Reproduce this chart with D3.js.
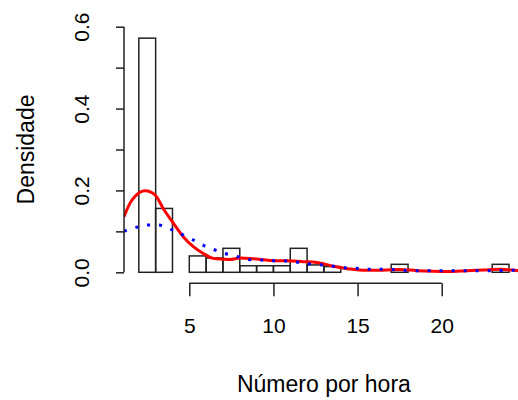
<!DOCTYPE html>
<html>
<head>
<meta charset="utf-8">
<script src="https://cdn.jsdelivr.net/npm/d3@7"></script>
<style>
  html, body { margin: 0; padding: 0; background: #fff; }
  svg { display: block; }
  text { font-family: "Liberation Sans", Arial, sans-serif; fill: #000; }
</style>
</head>
<body>
<script>
// ---- data ----
const binBreaks = [2,3,4,5,6,7,8,9,10,11,12,13,14,15,16,17,18,19,20,21,22,23,24];
const binDensity = [0.572,0.156,0,0.040,0.035,0.0586,0.016,0.016,0.016,0.0586,0.018,0.014,0,0,0,0.0195,0,0,0,0,0,0.0195];

const redX = [1.12,1.48,1.77,2.37,2.96,3.45,4.05,4.64,5.24,5.83,6.43,7.02,7.42,8.01,8.8,9.8,10.8,11.76,12.57,13.56,14.55,15.55,16.5,17.5,18.52,19.49,20.5,21.5,22.46,23.47,24.47,24.88];
const redY = [0.136,0.169,0.185,0.199,0.189,0.156,0.12,0.087,0.0625,0.046,0.034,0.032,0.031,0.035,0.033,0.029,0.028,0.026,0.024,0.015,0.008,0.005,0.005,0.007,0.004,0.0025,0.002,0.004,0.0056,0.0073,0.0043,0.003];

const blueX = [1.12,1.28,1.87,2.47,3.16,3.75,4.35,4.85,5.44,5.93,6.53,7.12,7.72,8.31,8.9,9.6,10.2,10.89,11.58,12.28,12.97,13.56,14.26,14.95,15.64,16.3,16.97,17.63,18.32,19.01,19.7,20.5,21.2,21.88,22.58,23.27,23.97,24.88];
const blueY = [0.100,0.103,0.110,0.1155,0.1155,0.107,0.098,0.0855,0.075,0.064,0.0545,0.046,0.040,0.033,0.030,0.030,0.0276,0.0276,0.0235,0.020,0.018,0.015,0.011,0.0098,0.0073,0.0073,0.007,0.005,0.004,0.0035,0.0035,0.004,0.0035,0.004,0.004,0.004,0.005,0.005];

const xTicks = [5,10,15,20];
const yTicks = [0,0.1,0.2,0.3,0.4,0.5,0.6];
const yTickLabels = ["0.0","","0.2","","0.4","","0.6"];
const xTitle = "Número por hora";
const yTitle = "Densidade";

// ---- layout ----
const W = 518, H = 400;
const svg = d3.select("body").append("svg").attr("width", W).attr("height", H);

const x = d3.scaleLinear().domain([5, 20]).range([189.3, 441.7]);
const y = d3.scaleLinear().domain([0, 0.6]).range([272.3, 26.7]);

const xMin = 2 - 0.04 * 22, xMax = 24 + 0.04 * 22;
const plotLeft = x(xMin), plotRight = x(xMax);
const plotBottom = y(-0.04 * 0.572), plotTop = y(0.572 * 1.04);

svg.append("defs").append("clipPath").attr("id", "plotclip")
  .append("rect")
  .attr("x", plotLeft).attr("y", plotTop)
  .attr("width", plotRight - plotLeft).attr("height", plotBottom - plotTop);

// histogram bars
const bins = binDensity.map((d, i) => ({ x0: binBreaks[i], x1: binBreaks[i + 1], d }));
svg.append("g")
  .selectAll("rect").data(bins).join("rect")
  .attr("x", d => x(d.x0))
  .attr("y", d => y(d.d))
  .attr("width", d => x(d.x1) - x(d.x0))
  .attr("height", d => y(0) - y(d.d))
  .attr("fill", "none")
  .attr("stroke", "#222")
  .attr("stroke-width", 1.5);

// curves
const line = d3.line().x(d => x(d[0])).y(d => y(d[1])).curve(d3.curveMonotoneX);
const gLines = svg.append("g").attr("clip-path", "url(#plotclip)");
gLines.append("path")
  .attr("d", line(redX.map((v, i) => [v, redY[i]])))
  .attr("fill", "none").attr("stroke", "#ff0000").attr("stroke-width", 3)
  .attr("stroke-linejoin", "round");
gLines.append("path")
  .attr("d", line(blueX.map((v, i) => [v, blueY[i]])))
  .attr("fill", "none").attr("stroke", "#0000ff").attr("stroke-width", 3)
  .attr("stroke-dasharray", "3,9");

// x axis
const xAxisY = 283.3;
const xAxis = d3.axisBottom(x).tickValues(xTicks).tickSize(13).tickSizeOuter(0).tickPadding(8);
const gx = svg.append("g").attr("transform", `translate(0,${xAxisY})`).call(xAxis);
gx.select(".domain").attr("d", `M${x(5)},0H${x(20)}`).attr("stroke", "#222").attr("stroke-width", 1.5);
gx.selectAll(".tick line").attr("stroke", "#222").attr("stroke-width", 1.5);
gx.selectAll(".tick text").attr("font-size", 21).attr("font-family", "Liberation Sans, Arial, sans-serif").attr("fill", "#000")
  .attr("y", 0).attr("dy", 0).attr("transform", "translate(0,50)");

// y axis
const yAxisX = plotLeft;
const yAxis = d3.axisLeft(y).tickValues(yTicks).tickSize(8).tickSizeOuter(0).tickFormat((d, i) => yTickLabels[i]);
const gy = svg.append("g").attr("transform", `translate(${yAxisX},0)`).call(yAxis);
gy.select(".domain").attr("d", `M0,${y(0)}V${y(0.6)}`).attr("stroke", "#222").attr("stroke-width", 1.5);
gy.selectAll(".tick line").attr("stroke", "#222").attr("stroke-width", 1.5);
gy.selectAll(".tick text").attr("font-size", 21).attr("font-family", "Liberation Sans, Arial, sans-serif").attr("fill", "#000")
  .attr("x", 0).attr("dy", 0).attr("text-anchor", "middle")
  .attr("transform", "translate(-35,0) rotate(-90)");

// titles
svg.append("text").attr("x", (plotLeft + plotRight) / 2).attr("y", 392)
  .attr("text-anchor", "middle").attr("font-size", 23).text(xTitle);
svg.append("text").attr("transform", `translate(34,${(y(0) + y(0.6)) / 2}) rotate(-90)`)
  .attr("text-anchor", "middle").attr("font-size", 23).text(yTitle);
</script>
</body>
</html>
